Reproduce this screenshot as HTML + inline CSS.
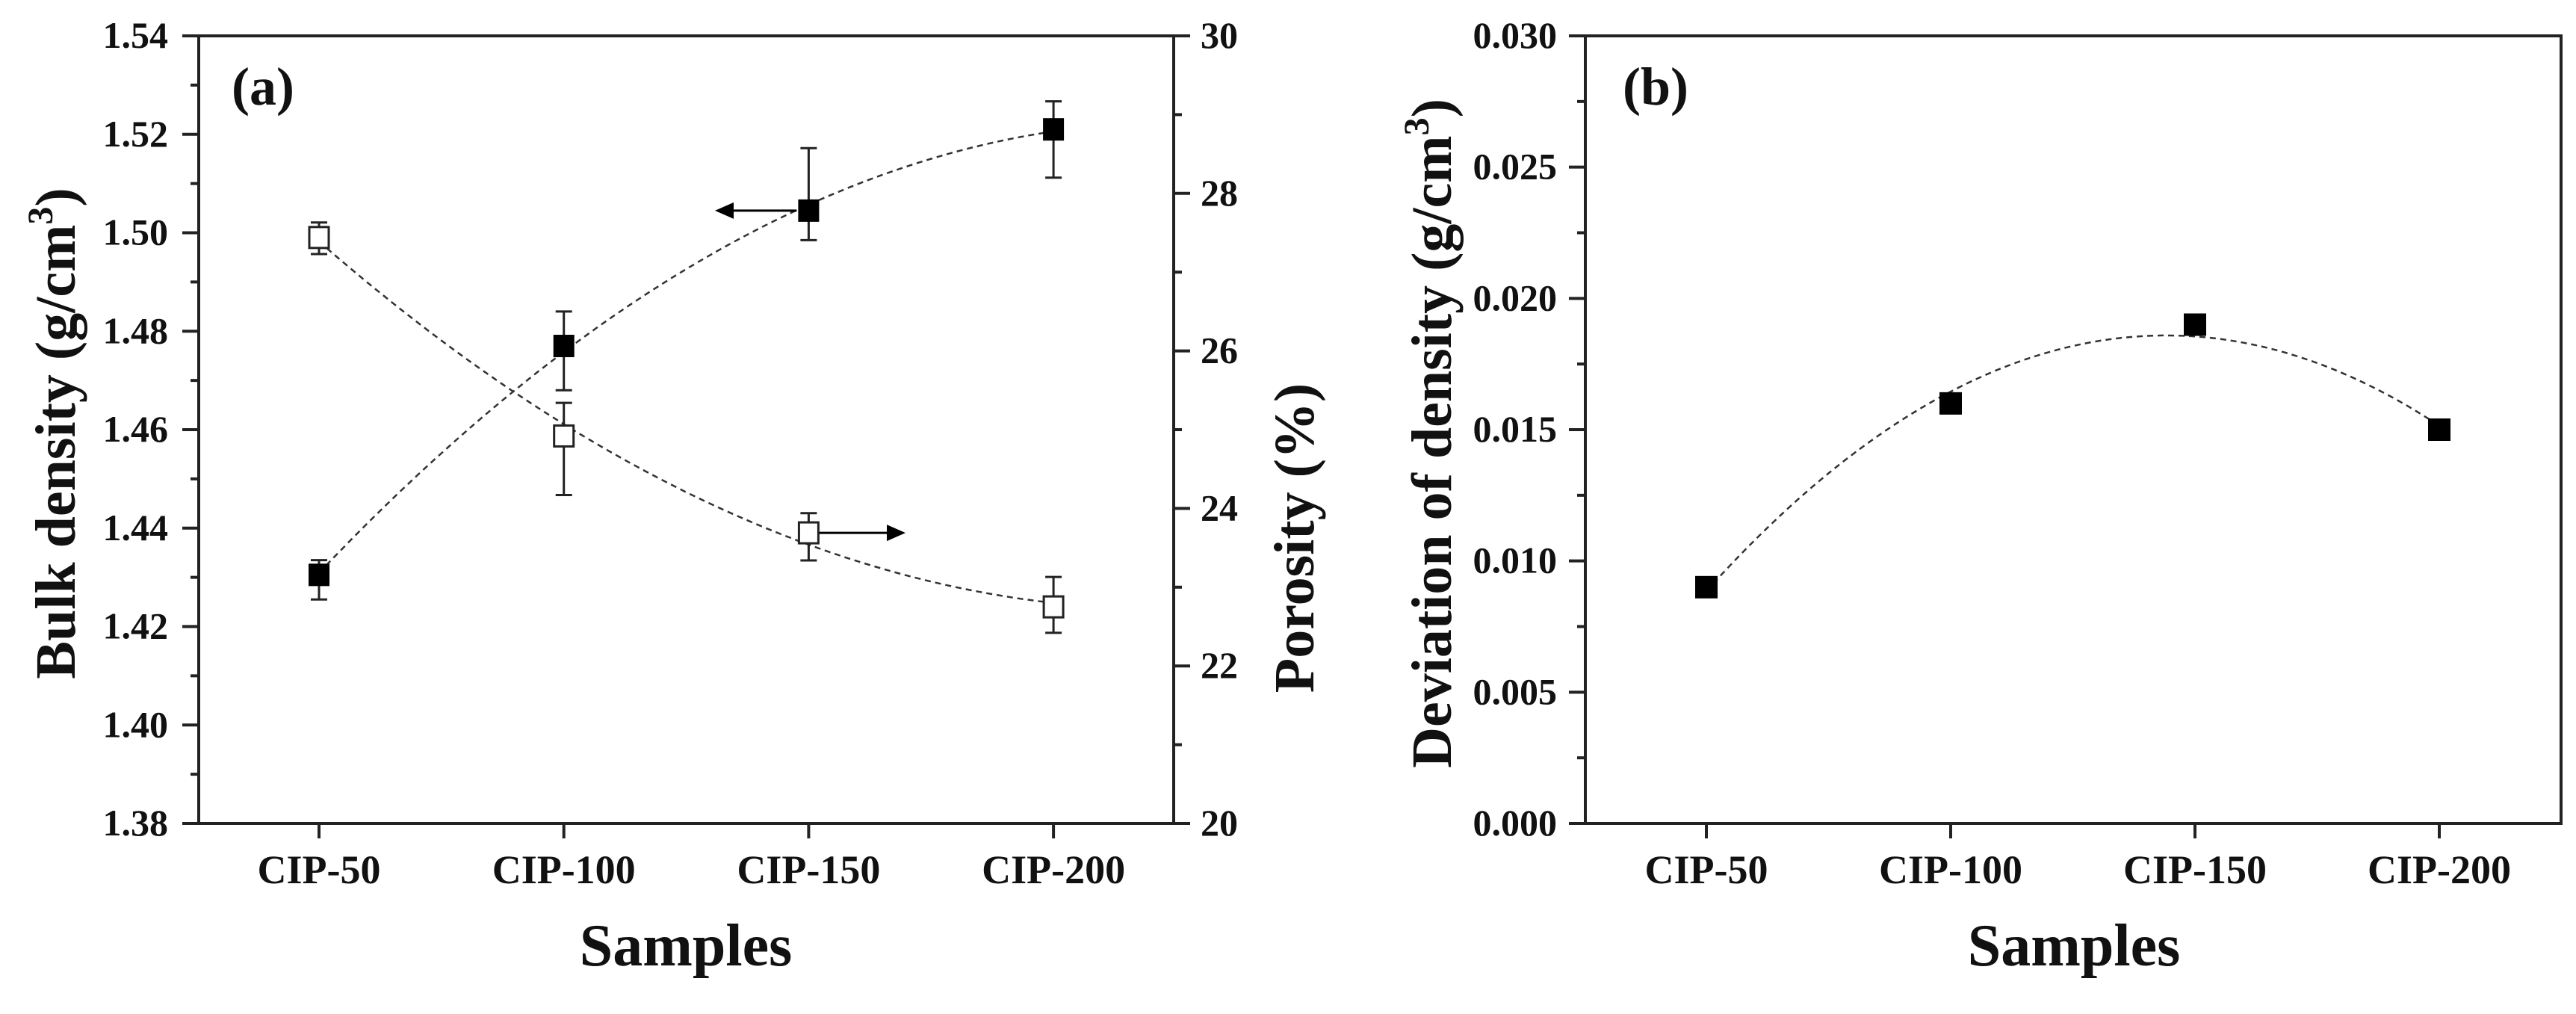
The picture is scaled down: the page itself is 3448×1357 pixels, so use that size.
<!DOCTYPE html>
<html><head><meta charset="utf-8"><style>
html,body{margin:0;padding:0;background:#fff;}
svg{display:block;}
text{font-family:"Liberation Serif",serif;font-weight:bold;fill:#111;}
</style></head><body>
<svg id="fig" xmlns="http://www.w3.org/2000/svg" width="3448" height="1357" viewBox="0 0 3448 1357"></svg>
<script>
const categories = ["CIP-50","CIP-100","CIP-150","CIP-200"];
const bulkDensity = [1.4305, 1.477, 1.5045, 1.521];
const bulkErrLow = [1.4255, 1.468, 1.4985, 1.5112];
const bulkErrHigh = [1.4335, 1.484, 1.5172, 1.5267];
const porosity = [27.44, 24.92, 23.69, 22.75];
const porErrLow = [27.23, 24.17, 23.34, 22.42];
const porErrHigh = [27.63, 25.34, 23.94, 23.13];
const deviation = [0.009, 0.016, 0.019, 0.015];
const leftTicks = ["1.38","1.40","1.42","1.44","1.46","1.48","1.50","1.52","1.54"];
const rightTicks = ["20","22","24","26","28","30"];
const devTicks = ["0.000","0.005","0.010","0.015","0.020","0.025","0.030"];

const NS="http://www.w3.org/2000/svg";
const svg=document.getElementById('fig');
function el(tag,attrs,parent){const e=document.createElementNS(NS,tag);for(const k in attrs)e.setAttribute(k,attrs[k]);(parent||svg).appendChild(e);return e;}
function quadFit(ys){ // least squares quadratic over x=0..n-1
  const n=ys.length;let S=[0,0,0,0,0],T=[0,0,0];
  for(let i=0;i<n;i++){for(let p=0;p<5;p++)S[p]+=Math.pow(i,p);for(let p=0;p<3;p++)T[p]+=ys[i]*Math.pow(i,p);}
  const A=[[S[0],S[1],S[2],T[0]],[S[1],S[2],S[3],T[1]],[S[2],S[3],S[4],T[2]]];
  for(let i=0;i<3;i++){for(let j=i+1;j<3;j++){const f=A[j][i]/A[i][i];for(let k=i;k<4;k++)A[j][k]-=f*A[i][k];}}
  const c=[0,0,0];for(let i=2;i>=0;i--){let s=A[i][3];for(let k=i+1;k<3;k++)s-=A[i][k]*c[k];c[i]=s/A[i][i];}
  return t=>c[0]+c[1]*t+c[2]*t*t;
}
function curvePath(f,xs,ys){let d='';for(let i=0;i<=90;i++){const t=i*3/90;d+=(i?'L':'M')+xs(t).toFixed(1)+','+ys(f(t)).toFixed(1);}return d;}

// ---------- Panel A ----------
const A={l:266,r:1571,t:48,b:1102};
const ax=i=>427+i*327.7;
const ayL=v=>A.b-(v-1.38)/0.16*(A.b-A.t);
const ayR=v=>A.b-(v-20)/10*(A.b-A.t);
const gA=el('g',{});
const frameA=el('rect',{x:A.l,y:A.t,width:A.r-A.l,height:A.b-A.t,fill:'none',stroke:'#222','stroke-width':4},gA);

leftTicks.forEach((s,i)=>{const v=1.38+i*0.02,y=ayL(v);
  el('line',{x1:A.l-22,x2:A.l,y1:y,y2:y,stroke:'#222','stroke-width':4},gA);
  if(i<leftTicks.length-1){const ym=ayL(v+0.01);el('line',{x1:A.l-11,x2:A.l,y1:ym,y2:ym,stroke:'#222','stroke-width':4},gA);}
  const t=el('text',{x:A.l-41,y:y+16,'font-size':50,'text-anchor':'end'},gA);t.textContent=s;
  });
rightTicks.forEach((s,i)=>{const v=20+i*2,y=ayR(v);
  el('line',{x1:A.r,x2:A.r+22,y1:y,y2:y,stroke:'#222','stroke-width':4},gA);
  if(i<rightTicks.length-1){const ym=ayR(v+1);el('line',{x1:A.r,x2:A.r+11,y1:ym,y2:ym,stroke:'#222','stroke-width':4},gA);}
  const t=el('text',{x:A.r+36,y:y+16,'font-size':50,'text-anchor':'start'},gA);t.textContent=s;
  });
categories.forEach((c,i)=>{const x=ax(i);
  el('line',{x1:x,x2:x,y1:A.b,y2:A.b+20,stroke:'#222','stroke-width':4},gA);
  const t=el('text',{x:x,y:1182,'font-size':54,'text-anchor':'middle'},gA);t.textContent=c;
  });
// curves
const cb=el('path',{d:curvePath(quadFit(bulkDensity),ax,ayL),fill:'none',stroke:'#333','stroke-width':2.5,'stroke-dasharray':'8,6'},gA);

const cp=el('path',{d:curvePath(quadFit(porosity),ax,ayR),fill:'none',stroke:'#333','stroke-width':2.5,'stroke-dasharray':'8,6'},gA);

function errbar(g,x,y1,y2){el('line',{x1:x,x2:x,y1:y1,y2:y2,stroke:'#222','stroke-width':3},g);
  el('line',{x1:x-11,x2:x+11,y1:y1,y2:y1,stroke:'#222','stroke-width':3},g);
  el('line',{x1:x-11,x2:x+11,y1:y2,y2:y2,stroke:'#222','stroke-width':3},g);}
porosity.forEach((v,i)=>{const x=ax(i);errbar(gA,x,ayR(porErrLow[i]),ayR(porErrHigh[i]));
  const m=el('rect',{x:x-13,y:ayR(v)-14,width:26,height:28,fill:'#fff',stroke:'#222','stroke-width':3},gA);
  });
bulkDensity.forEach((v,i)=>{const x=ax(i);errbar(gA,x,ayL(bulkErrLow[i]),ayL(bulkErrHigh[i]));
  const m=el('rect',{x:x-14,y:ayL(v)-15,width:28,height:30,fill:'#000'},gA);
  });
// arrows
const ya=ayL(bulkDensity[2]);
const a1=el('g',{},gA);
el('line',{x1:ax(2)-16,x2:975,y1:ya,y2:ya,stroke:'#000','stroke-width':3},a1);
el('polygon',{points:`957,${ya} 982,${ya-11} 982,${ya+11}`,fill:'#000'},a1);
const yb=ayR(porosity[2]);
const a2=el('g',{},gA);
el('line',{x1:ax(2)+14,x2:1195,y1:yb,y2:yb,stroke:'#000','stroke-width':3},a2);
el('polygon',{points:`1212,${yb} 1187,${yb-11} 1187,${yb+11}`,fill:'#000'},a2);
let t;
t=el('text',{x:310,y:140,'font-size':72},gA);t.textContent='(a)';
t=el('text',{x:918,y:1292,'font-size':80,'text-anchor':'middle'},gA);t.textContent='Samples';
t=el('text',{x:0,y:0,'font-size':76,'text-anchor':'middle',transform:'translate(100,580) rotate(-90)'},gA);
t.innerHTML='Bulk density (g/cm<tspan dy="-30" font-size="48">3</tspan><tspan dy="30">)</tspan>';

t=el('text',{x:0,y:0,'font-size':76,'text-anchor':'middle',transform:'translate(1758,720) rotate(-90)'},gA);t.textContent='Porosity (%)';


// ---------- Panel B ----------
const B={l:2122,r:3428,t:48,b:1102};
const bx=i=>2284+i*327;
const by=v=>B.b-v/0.03*(B.b-B.t);
const gB=el('g',{});
const frameB=el('rect',{x:B.l,y:B.t,width:B.r-B.l,height:B.b-B.t,fill:'none',stroke:'#222','stroke-width':4},gB);

devTicks.forEach((s,i)=>{const v=i*0.005,y=by(v);
  el('line',{x1:B.l-22,x2:B.l,y1:y,y2:y,stroke:'#222','stroke-width':4},gB);
  if(i<devTicks.length-1){const ym=by(v+0.0025);el('line',{x1:B.l-11,x2:B.l,y1:ym,y2:ym,stroke:'#222','stroke-width':4},gB);}
  const tt=el('text',{x:B.l-38,y:y+16,'font-size':50,'text-anchor':'end'},gB);tt.textContent=s;
  });
categories.forEach((c,i)=>{const x=bx(i);
  el('line',{x1:x,x2:x,y1:B.b,y2:B.b+20,stroke:'#222','stroke-width':4},gB);
  const tt=el('text',{x:x,y:1182,'font-size':54,'text-anchor':'middle'},gB);tt.textContent=c;
  });
const cd=el('path',{d:curvePath(quadFit(deviation),bx,by),fill:'none',stroke:'#333','stroke-width':2.5,'stroke-dasharray':'8,6'},gB);

deviation.forEach((v,i)=>{const x=bx(i);
  const m=el('rect',{x:x-15,y:by(v)-15,width:30,height:30,fill:'#000'},gB);
  });
t=el('text',{x:2172,y:140,'font-size':72},gB);t.textContent='(b)';
t=el('text',{x:2776,y:1292,'font-size':80,'text-anchor':'middle'},gB);t.textContent='Samples';
t=el('text',{x:0,y:0,'font-size':76,'text-anchor':'middle',transform:'translate(1942,580) rotate(-90)'},gB);
t.innerHTML='Deviation of density (g/cm<tspan dy="-30" font-size="48">3</tspan><tspan dy="30">)</tspan>';

</script>
</body></html>
